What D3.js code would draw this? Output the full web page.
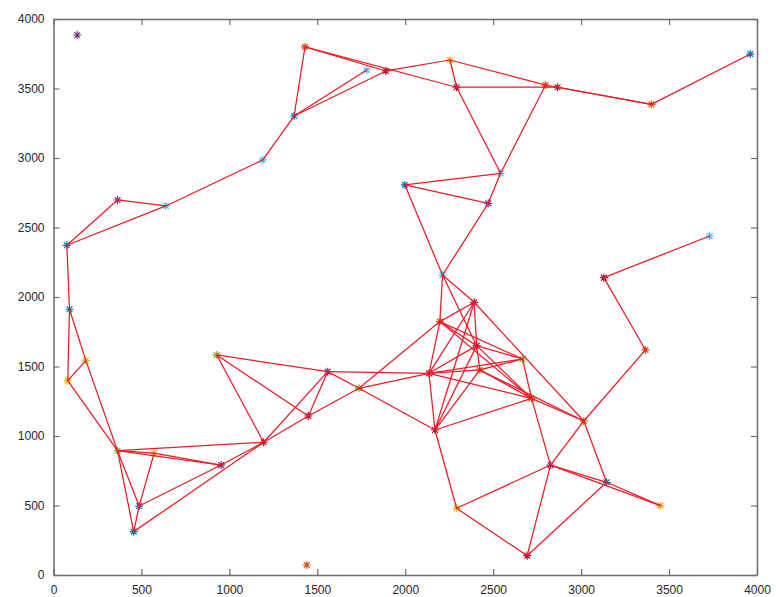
<!DOCTYPE html>
<html>
<head>
<meta charset="utf-8">
<script src="https://cdn.jsdelivr.net/npm/d3@7"></script>
<style>
  body { margin: 0; background: #fff; }
  .tick text { font-family: "Liberation Sans", Arial, sans-serif; font-size: 12px; fill: #262626; }
</style>
</head>
<body>
<svg id="chart" width="776" height="597"></svg>
<script>
// node positions (data units), numbered 1..50 in the order below
const nodeX = [135, 1430, 1781, 2254, 2292, 2798, 2866, 3400, 3962, 1368,
               1190, 364, 639, 76, 1998, 2542, 2472, 3731, 3129, 2212,
               91, 184, 81, 928, 1559, 1737, 1449, 1195, 364, 572,
               953, 487, 456, 1440, 2392, 2197, 2406, 2667, 2135, 2424,
               2718, 3015, 2169, 2826, 3145, 3366, 3451, 2292, 2693, 1890];
const nodeY = [3885, 3799, 3633, 3705, 3509, 3525, 3509, 3386, 3748, 3302,
               2986, 2698, 2655, 2372, 2806, 2890, 2674, 2439, 2139, 2158,
               1912, 1542, 1398, 1583, 1463, 1343, 1144, 955, 894, 876,
               791, 496, 312, 72, 1962, 1823, 1650, 1554, 1451, 1475,
               1271, 1108, 1043, 791, 667, 1619, 499, 480, 139, 3626];
// index into markerColors
const nodeColor = [4, 1, 5, 2, 6, 1, 6, 1, 0, 0,
                   5, 4, 5, 0, 0, 5, 4, 5, 6, 5,
                   0, 2, 2, 3, 4, 3, 6, 6, 3, 2,
                   4, 0, 0, 1, 6, 1, 6, 3, 6, 1,
                   1, 1, 6, 4, 0, 1, 2, 2, 6, 6];
const markerColors = ['#0072BD', '#D95319', '#EDB120', '#77AC30', '#7E2F8E', '#4DBEEE', '#A2142F'];

// links between nodes (1-based ids)
const edges = [
  [2,10],[10,3],[10,50],[2,50],[2,5],[50,4],[4,5],[4,6],[6,8],[5,7],[7,8],[8,9],
  [5,16],[6,16],[15,16],[16,17],[15,17],[15,20],[17,20],
  [10,11],[11,13],[12,13],[12,14],[13,14],[14,21],[21,22],[22,29],[21,23],[22,23],[23,29],
  [29,30],[29,31],[30,31],[29,32],[29,33],[30,32],[32,33],[32,31],[33,28],[31,28],[29,28],
  [24,25],[24,27],[24,28],[25,39],[25,26],[25,27],[25,28],[26,27],[26,39],[26,43],[26,36],[27,28],
  [20,36],[20,37],[20,35],[35,36],[35,37],[35,39],[35,43],[35,42],[36,37],[36,38],[36,39],[36,41],
  [37,38],[37,39],[37,40],[37,41],[37,43],[38,40],[38,39],[38,41],[39,40],[39,41],[39,43],
  [40,41],[40,43],[41,43],[41,42],[40,42],
  [43,48],[48,44],[48,49],[44,49],[45,49],[44,45],[44,47],[45,47],[44,42],[42,45],[42,46],
  [46,19],[19,18],[41,44]
];

const xTicks = [0, 500, 1000, 1500, 2000, 2500, 3000, 3500, 4000];
const yTicks = [0, 500, 1000, 1500, 2000, 2500, 3000, 3500, 4000];

const plotLeft = 53.5, plotRight = 757, plotTop = 19, plotBottom = 575;

const svg = d3.select('#chart');
const x = d3.scaleLinear().domain([0, 4000]).range([plotLeft, plotRight]);
const y = d3.scaleLinear().domain([0, 4000]).range([plotBottom, plotTop]);

// markers first, links on top (like the original)
const star = 'M-4,0H4M0,-4V4M-2.9,-2.9L2.9,2.9M-2.9,2.9L2.9,-2.9';
svg.append('g').selectAll('path')
  .data(nodeX.map((d, i) => i))
  .join('path')
  .attr('d', star)
  .attr('transform', i => 'translate(' + x(nodeX[i]) + ',' + y(nodeY[i]) + ')')
  .attr('stroke', i => markerColors[nodeColor[i]])
  .attr('stroke-width', 1.2)
  .attr('fill', 'none');

svg.append('g').selectAll('line')
  .data(edges)
  .join('line')
  .attr('x1', d => x(nodeX[d[0] - 1]))
  .attr('y1', d => y(nodeY[d[0] - 1]))
  .attr('x2', d => x(nodeX[d[1] - 1]))
  .attr('y2', d => y(nodeY[d[1] - 1]))
  .attr('stroke', '#f01a24')
  .attr('stroke-width', 1.25);

// axes box with inward ticks on all sides
const axisColor = '#6e6e6e';
const fmt = d3.format('d');
function styleAxis(g) {
  g.selectAll('.domain').attr('stroke', axisColor).attr('stroke-width', 1.5);
  g.selectAll('.tick line').attr('stroke', axisColor).attr('stroke-width', 1.2);
}
svg.append('g')
  .attr('transform', 'translate(0,' + plotBottom + ')')
  .call(d3.axisBottom(x).tickValues(xTicks).tickFormat(fmt).tickSizeInner(-6).tickSizeOuter(0).tickPadding(10))
  .call(styleAxis);
svg.append('g')
  .attr('transform', 'translate(0,' + plotTop + ')')
  .call(d3.axisTop(x).tickValues(xTicks).tickSizeInner(-6).tickSizeOuter(0).tickFormat(''))
  .call(styleAxis);
svg.append('g')
  .attr('transform', 'translate(' + plotLeft + ',0)')
  .call(d3.axisLeft(y).tickValues(yTicks).tickFormat(fmt).tickSizeInner(-6).tickSizeOuter(0).tickPadding(9))
  .call(styleAxis);
svg.append('g')
  .attr('transform', 'translate(' + plotRight + ',0)')
  .call(d3.axisRight(y).tickValues(yTicks).tickSizeInner(-6).tickSizeOuter(0).tickFormat(''))
  .call(styleAxis);
svg.selectAll('.tick text').attr('font-family', null).attr('font-size', null);
</script>
</body>
</html>
